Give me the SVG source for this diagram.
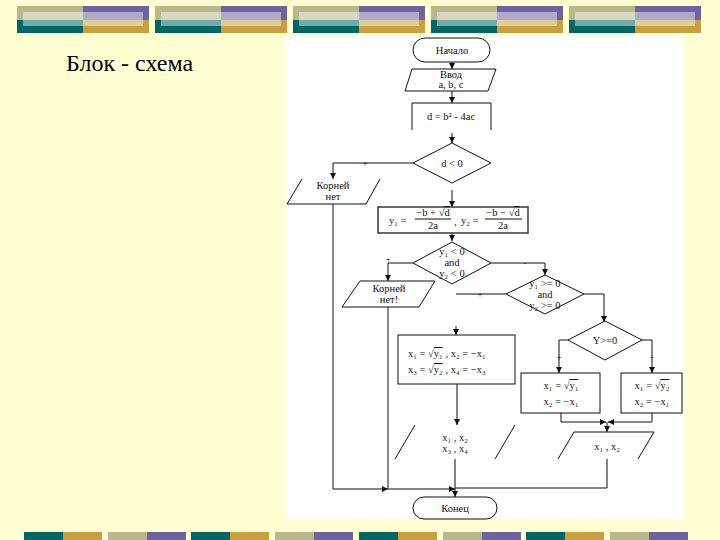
<svg xmlns="http://www.w3.org/2000/svg" width="720" height="540" viewBox="0 0 720 540">
<defs>
<style>
.ln{fill:none;stroke:#111;stroke-width:1}
.sh{fill:none;stroke:#111;stroke-width:1}
.t{font-family:"Liberation Serif","DejaVu Serif",serif;font-size:10.5px;fill:#111;text-anchor:middle}
.ts{font-family:"Liberation Serif","DejaVu Serif",serif;font-size:10.5px;fill:#111}
.lab{font-family:"Liberation Serif","DejaVu Serif",serif;font-size:9px;fill:#111;text-anchor:middle}
.ttl{font-family:"Liberation Serif","DejaVu Serif",serif;font-size:24px;fill:#000}
.ob{text-decoration:overline}
.ov{fill:#ffffff;opacity:0.45}
</style>
<marker id="ah" viewBox="0 0 10 10" refX="10" refY="5" markerWidth="6" markerHeight="6" markerUnits="userSpaceOnUse" orient="auto">
<path d="M0,0 L10,5 L0,10 Z" fill="#111"/>
</marker>
<g id="topblk">
<rect x="0" y="6" width="66" height="14" fill="#b8b88c"/>
<rect x="66" y="6" width="66" height="14" fill="#6c64a0"/>
<rect x="0" y="20" width="66" height="13" fill="#006666"/>
<rect x="66" y="20" width="66" height="13" fill="#c8a040"/>
<rect x="6" y="12" width="120" height="14" class="ov"/>
</g>
</defs>
<rect width="720" height="540" fill="#ffffd2"/>
<g id="top-bars">
<use href="#topblk" x="17"/>
<use href="#topblk" x="155"/>
<use href="#topblk" x="293"/>
<use href="#topblk" x="431"/>
<use href="#topblk" x="569"/>
</g>
<g id="bottom-bars">
<rect x="24" y="532" width="39" height="8" fill="#006666"/><rect x="63" y="532" width="39" height="8" fill="#c8a040"/>
<rect x="108" y="532" width="39" height="8" fill="#b8b88c"/><rect x="147" y="532" width="39" height="8" fill="#6c64a0"/>
<rect x="191" y="532" width="39" height="8" fill="#006666"/><rect x="230" y="532" width="39" height="8" fill="#c8a040"/>
<rect x="275" y="532" width="39" height="8" fill="#b8b88c"/><rect x="314" y="532" width="39" height="8" fill="#6c64a0"/>
<rect x="359" y="532" width="39" height="8" fill="#006666"/><rect x="398" y="532" width="39" height="8" fill="#c8a040"/>
<rect x="443" y="532" width="39" height="8" fill="#b8b88c"/><rect x="482" y="532" width="39" height="8" fill="#6c64a0"/>
<rect x="526" y="532" width="39" height="8" fill="#006666"/><rect x="565" y="532" width="39" height="8" fill="#c8a040"/>
<rect x="610" y="532" width="39" height="8" fill="#b8b88c"/><rect x="649" y="532" width="39" height="8" fill="#6c64a0"/>
</g>
<text class="ttl" x="66" y="71">Блок - схема</text>
<rect id="panel" x="285" y="35" width="399" height="484" fill="#ffffff"/>

<g id="connectors">
<path class="ln" d="M452,62 V69" marker-end="url(#ah)"/>
<path class="ln" d="M452,91 V103" marker-end="url(#ah)"/>
<path class="ln" d="M452,133 V143" marker-end="url(#ah)"/>
<path class="ln" d="M413,163 H333 V179" marker-end="url(#ah)"/>
<path class="ln" d="M452,190 V207" marker-end="url(#ah)"/>
<path class="ln" d="M452,233 V241" marker-end="url(#ah)"/>
<path class="ln" d="M413,263 H388 V281" marker-end="url(#ah)" stroke-width="1.5"/>
<path class="ln" d="M491,263 H545 V275" marker-end="url(#ah)" stroke-width="1.5"/>
<path class="ln" d="M506,294 H456"/>
<path class="ln" d="M456,326 V335" marker-end="url(#ah)"/>
<path class="ln" d="M584,294 H604 V322" marker-end="url(#ah)"/>
<path class="ln" d="M568,340 H559 V373" marker-end="url(#ah)"/>
<path class="ln" d="M642,340 H652 V373" marker-end="url(#ah)"/>
<path class="ln" d="M561,413 V422 H606" marker-end="url(#ah)"/>
<path class="ln" d="M652,413 V422 H608" marker-end="url(#ah)"/>
<path class="ln" d="M607,422 V432" marker-end="url(#ah)"/>
<path class="ln" d="M457,384 V425" marker-end="url(#ah)"/>
<path class="ln" d="M455,459 V497" marker-end="url(#ah)"/>
<path class="ln" d="M333,204 V489 H388" marker-end="url(#ah)"/>
<path class="ln" d="M388,307 V489 H455" marker-end="url(#ah)"/>
<path class="ln" d="M607,459 V488 H455"/>
<text class="lab" x="365" y="166">+</text>
<text class="lab" x="388" y="262">+</text>
<text class="lab" x="525" y="266">-</text>
<text class="lab" x="480" y="297">+</text>
<text class="lab" x="559" y="360">+</text>
<text class="lab" x="652" y="360">-</text>
</g>

<g id="start">
<rect class="sh" x="413" y="38" width="77" height="24" rx="12"/>
<text class="t" x="452" y="54">Начало</text>
</g>
<g id="input">
<path class="sh" d="M412,69 H496 L488,91 H405 Z"/>
<text class="t" x="451" y="78">Ввод</text>
<text class="t" x="451" y="88">a, b, c</text>
</g>
<g id="calc-d">
<path class="sh" d="M412,130 V103 H491 V130"/>
<text class="t" x="451" y="120">d = b² - 4ac</text>
</g>
<g id="cond-d">
<path class="sh" d="M452,143 L491,163 L452,183 L413,163 Z"/>
<text class="t" x="452" y="167">d &lt; 0</text>
</g>
<g id="no-roots">
<path class="sh" d="M302,179 L287,204 H366 L380,179"/>
<text class="t" x="333" y="189">Корней</text>
<text class="t" x="333" y="200">нет</text>
</g>
<g id="calc-y">
<rect x="378" y="207" width="150" height="26" fill="none" stroke="#444" stroke-width="1.6"/>
<text class="ts" x="389" y="224">y₁ =</text>
<text class="t" x="433" y="216">−b + √<tspan class="ob">d</tspan></text>
<line class="ln" x1="415" y1="219" x2="451" y2="219" stroke-width="0.7"/>
<text class="t" x="433" y="229">2a</text>
<text class="ts" x="454" y="225">,</text>
<text class="ts" x="461" y="224">y₂ =</text>
<text class="t" x="503" y="216">−b − √<tspan class="ob">d</tspan></text>
<line class="ln" x1="485" y1="219" x2="522" y2="219" stroke-width="0.7"/>
<text class="t" x="503" y="229">2a</text>
</g>
<g id="cond-neg">
<path class="sh" d="M452,242 L491,263 L452,284 L413,263 Z"/>
<text class="t" x="452" y="255">y₁ &lt; 0</text>
<text class="t" x="452" y="266">and</text>
<text class="t" x="452" y="277">y₂ &lt; 0</text>
</g>
<g id="no-roots2">
<path class="sh" d="M360,281 H435 L419,307 H342 Z"/>
<text class="t" x="389" y="292">Корней</text>
<text class="t" x="389" y="303">нет!</text>
</g>
<g id="cond-pos">
<path class="sh" d="M545,275 L584,294 L545,314 L506,294 Z"/>
<text class="t" x="545" y="287">y₁ &gt;= 0</text>
<text class="t" x="545" y="298">and</text>
<text class="t" x="545" y="309">y₂ &gt;= 0</text>
</g>
<g id="four-roots">
<rect class="sh" x="398" y="335" width="117" height="49"/>
<text class="ts" x="408" y="357">x₁ = √<tspan class="ob">y₁</tspan> , x₂ = −x₁</text>
<text class="ts" x="408" y="373">x₃ = √<tspan class="ob">y₂</tspan> , x₄ = −x₃</text>
</g>
<g id="cond-y">
<path class="sh" d="M605,321 L642,340 L605,360 L568,340 Z"/>
<text class="t" x="605" y="344">Y&gt;=0</text>
</g>
<g id="two-roots-a">
<rect class="sh" x="521" y="373" width="79" height="40"/>
<text class="t" x="561" y="389">x₁ = √<tspan class="ob">y₁</tspan></text>
<text class="t" x="561" y="405">x₂ = −x₁</text>
</g>
<g id="two-roots-b">
<rect class="sh" x="621" y="373" width="61" height="40"/>
<text class="t" x="652" y="389">x₁ = √<tspan class="ob">y₂</tspan></text>
<text class="t" x="652" y="405">x₂ = −x₁</text>
</g>
<g id="out-four">
<path class="sh" d="M415,425 L395,459"/>
<path class="sh" d="M515,425 L495,459"/>
<text class="t" x="455" y="441">x₁ , x₂</text>
<text class="t" x="455" y="452">x₃ , x₄</text>
</g>
<g id="out-two">
<path class="sh" d="M558,459 L574,432 H654 L638,459"/>
<text class="t" x="607" y="450">x₁ , x₂</text>
</g>
<g id="end">
<rect class="sh" x="413" y="497" width="84" height="22" rx="11"/>
<text class="t" x="455" y="512">Конец</text>
</g>
</svg>
